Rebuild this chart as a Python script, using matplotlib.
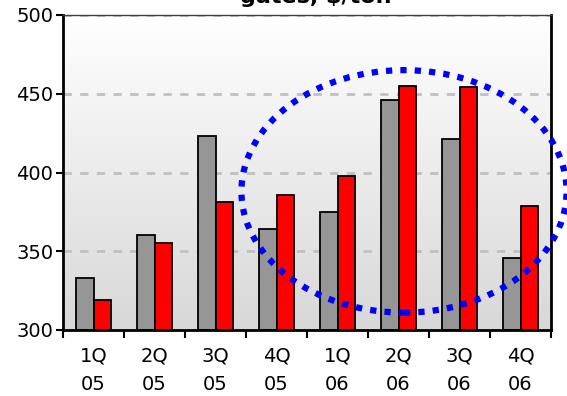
import numpy as np
import matplotlib
matplotlib.use("Agg")
import matplotlib.pyplot as plt
from matplotlib.patches import Ellipse

# data
quarters = ["1Q\n05", "2Q\n05", "3Q\n05", "4Q\n05", "1Q\n06", "2Q\n06", "3Q\n06", "4Q\n06"]
gray_vals = [333, 360, 423, 364, 375, 446, 421, 346]
red_vals = [319, 355, 381, 386, 398, 455, 454, 379]
yticks = [300, 350, 400, 450, 500]

plt.rcParams['font.family'] = 'DejaVu Sans'

fig = plt.figure(figsize=(5.67, 3.96), dpi=100)
ax = fig.add_axes([63 / 567, 1 - 330 / 396, (551 - 63) / 567, (330 - 15) / 396])

x = np.arange(len(quarters))
ax.set_xlim(-0.5, len(quarters) - 0.5)
ax.set_ylim(300, 500)

# gradient background, white at top -> light gray at bottom
grad = np.linspace(0, 1, 256).reshape(-1, 1)
ax.imshow(grad, cmap=matplotlib.colors.LinearSegmentedColormap.from_list("bg", ["#ffffff", "#d8d8d8"]),
          extent=[-0.5, len(quarters) - 0.5, 300, 500], aspect='auto', zorder=0)

for yv in [350, 400, 450, 500]:
    ax.axhline(yv, color="#c0c0c0", lw=2, dashes=(3, 3), zorder=1)

w = 0.28
ax.bar(x - w / 2, [v - 300 for v in gray_vals], w, bottom=300, color="#969696",
       edgecolor="black", lw=1.3, zorder=2)
ax.bar(x + w / 2, [v - 300 for v in red_vals], w, bottom=300, color="#ff0000",
       edgecolor="black", lw=1.3, zorder=2)

ell = Ellipse((5.09, 388), 5.33, 154, fill=False, edgecolor="#0000ff", lw=4.5,
              linestyle=(0, (1, 1.3)), clip_on=False, zorder=5)
ax.add_patch(ell)

ax.set_yticks(yticks)
ax.set_yticklabels([str(v) for v in yticks], fontsize=14)
ax.set_xticks(x)
ax.set_xticklabels(quarters, fontsize=14, linespacing=1.6)
ax.tick_params(axis='x', length=0, pad=12)
ax.set_xticks(np.arange(-0.5, len(quarters)), minor=True)
ax.tick_params(axis='x', which='minor', length=6, width=1.5, direction='out')
ax.tick_params(axis='y', length=5, width=1.5, direction='out', pad=2)

for s in ['left', 'bottom', 'right']:
    ax.spines[s].set_linewidth(2)
    ax.spines[s].set_color('black')
ax.spines['top'].set_linewidth(1)
ax.spines['top'].set_color('#404040')

fig.text(316 / 567, 1 - 3 / 396, "gates, $/ton", ha='center', va='baseline',
         fontsize=16, fontweight='bold')

fig.savefig("out.png", dpi=100)
